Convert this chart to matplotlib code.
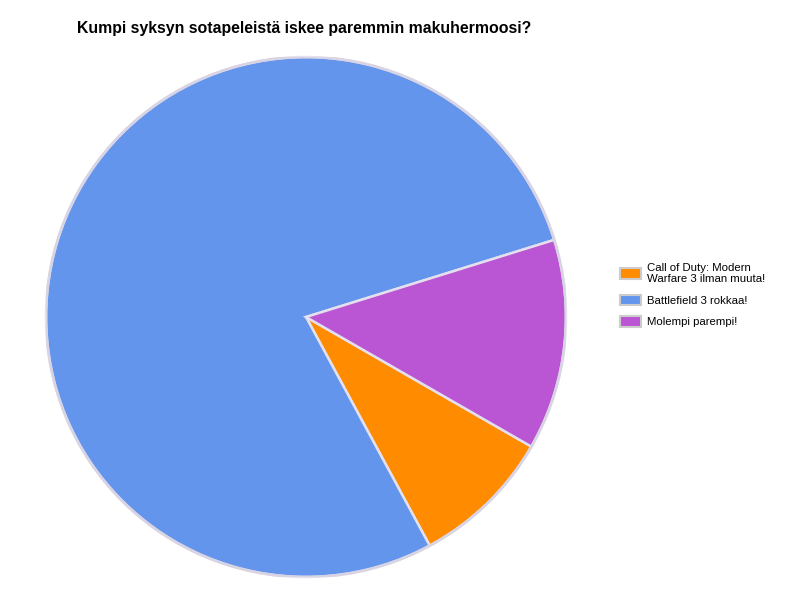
import matplotlib
matplotlib.use("Agg")
import matplotlib.pyplot as plt

labels = ["Call of Duty: Modern\nWarfare 3 ilman muuta!", "Battlefield 3 rokkaa!", "Molempi parempi!"]
values = [8.8, 78.1, 13.1]
colors = ["#FF8C00", "#6495ED", "#BA55D3"]
title = "Kumpi syksyn sotapeleistä iskee paremmin makuhermoosi?"

plt.rcParams['font.family'] = ['Liberation Sans', 'DejaVu Sans']

fig = plt.figure(figsize=(8, 6), dpi=100)
ax = fig.add_axes([0.0575, 0.0383, 0.65, 0.8667])
wedges, _ = ax.pie(values, colors=colors, startangle=-29.9, counterclock=False,
                   wedgeprops=dict(edgecolor="#E4E0EE", linewidth=1.8))
ax.set_aspect('equal')
ax.set_xlim(-1.0, 1.0)
ax.set_ylim(-1.0, 1.0)
# outer rim
circle = plt.Circle((0, 0), 1.0, fill=False, edgecolor="#D8D4E4", linewidth=2.0)
ax.add_patch(circle)

fig.text(77/800, 1 - 28/600, title, fontsize=11.4, fontweight='bold', va='center', ha='left')

leg = fig.legend(wedges, labels, loc='upper left', bbox_to_anchor=(620/800, 1 - 263/600),
                 frameon=False, fontsize=8.2, handlelength=1.8, handleheight=1.0,
                 handletextpad=0.6, labelspacing=0.95, borderpad=0, borderaxespad=0)
for t in leg.get_texts():
    t.set_linespacing(1.1)
for h in leg.legend_handles:
    h.set_edgecolor("#CCCCCC")
    h.set_linewidth(1.5)

fig.savefig("out.png", dpi=100)
